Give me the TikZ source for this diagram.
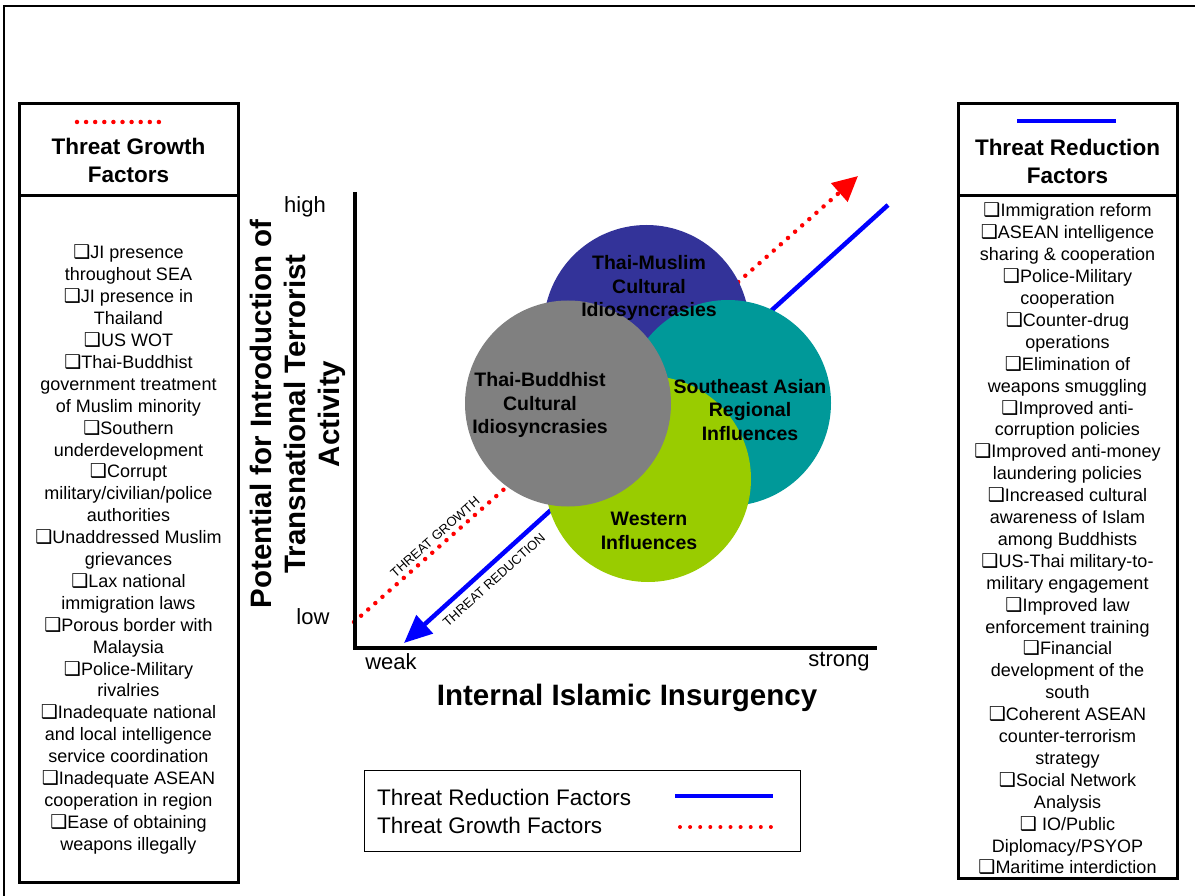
\documentclass[tikz,border=0pt]{standalone}
\usepackage{fontspec}
\setmainfont{Liberation Sans}
\newfontfamily\dejavu{DejaVu Sans}
\usetikzlibrary{arrows.meta}
\definecolor{tmblue}{HTML}{333399}
\definecolor{tbgray}{HTML}{808080}
\definecolor{seateal}{HTML}{009999}
\definecolor{wgreen}{HTML}{99CC00}
\newcommand{\chk}{{\dejavu\fontsize{19}{19}\selectfont ❑}}
\tikzset{
  bodytxt/.style={align=center, font=\fontsize{18}{21.9}\selectfont, inner sep=0pt},
  hdrtxt/.style={align=center, font=\bfseries\fontsize{22.5}{28}\selectfont, inner sep=0pt},
  circtxt/.style={align=center, font=\bfseries\fontsize{19.5}{23.5}\selectfont, inner sep=0pt},
  axtxt/.style={font=\fontsize{22}{26}\selectfont, inner sep=0pt},
  titletxt/.style={align=center, font=\bfseries\fontsize{29.5}{34}\selectfont, inner sep=0pt},
  legtxt/.style={anchor=west, font=\fontsize{22.5}{28}\selectfont, inner sep=0pt},
  arrowtxt/.style={font=\fontsize{13}{13}\selectfont, inner sep=0pt},
  panel/.style={draw=black, line width=3pt, fill=white},
  shadowbox/.style={fill=black!45},
  bubble/.style={circle, minimum size=206pt, inner sep=0pt},
  reddots/.style={red, line width=4.5pt, line cap=round},
  bluestroke/.style={blue, line width=4.5pt},
}
\begin{document}
\begin{tikzpicture}[x=1pt,y=-1pt]
\useasboundingbox (0,0) rectangle (1195,896);
\fill[white] (0,0) rectangle (1195,896);
% outer frame
\draw[line width=2pt] (4,896) -- (4,6) -- (1195,6);

% left panel
\fill[shadowbox] (21,106) rectangle (240,884);
\draw[panel] (19,104) rectangle (238,196);
\draw[panel] (19,196) rectangle (238,882);
\draw[reddots, dash pattern=on 0pt off 9.1pt] (77,122) -- (168,122);
\node[hdrtxt] (lh) at (128.5,160) {Threat Growth\\Factors};
\node[bodytxt] (lb) at (128.5,549.5) {\chk JI presence\\throughout SEA\\\chk JI presence in\\Thailand\\\chk US WOT\\\chk Thai-Buddhist\\government treatment\\of Muslim minority\\\chk Southern\\underdevelopment\\\chk Corrupt\\military/civilian/police\\authorities\\\chk Unaddressed Muslim\\grievances\\\chk Lax national\\immigration laws\\\chk Porous border with\\Malaysia\\\chk Police-Military\\rivalries\\\chk Inadequate national\\and local intelligence\\service coordination\\\chk Inadequate ASEAN\\cooperation in region\\\chk Ease of obtaining\\weapons illegally};

% right panel
\fill[shadowbox] (960,106) rectangle (1179,880);
\draw[panel] (958,104) rectangle (1177,196);
\draw[panel] (958,196) rectangle (1177,878);
\draw[bluestroke, line width=4pt] (1017,121) -- (1116,121);
\node[hdrtxt] (rh) at (1067.5,161.5) {Threat Reduction\\Factors};
\node[bodytxt] (rb) at (1067.5,539) {\chk Immigration reform\\\chk ASEAN intelligence\\sharing \& cooperation\\\chk Police-Military\\cooperation\\\chk Counter-drug\\operations\\\chk Elimination of\\weapons smuggling\\\chk Improved anti-\\corruption policies\\\chk Improved anti-money\\laundering policies\\\chk Increased cultural\\awareness of Islam\\among Buddhists\\\chk US-Thai military-to-\\military engagement\\\chk Improved law\\enforcement training\\\chk Financial\\development of the\\south\\\chk Coherent ASEAN\\counter-terrorism\\strategy\\\chk Social Network\\Analysis\\\chk\ IO/Public\\Diplomacy/PSYOP\\\chk Maritime interdiction};

% trend lines (behind circles)
\coordinate (rg0) at (354,622);
\coordinate (rg1) at (858,176);
\draw[reddots, dash pattern=on 0pt off 9.5pt, -{Triangle[length=25pt,width=24pt]}] (rg0) -- (rg1);
\coordinate (bl0) at (888,205);
\coordinate (bl1) at (404,643);
\draw[bluestroke, -{Triangle[length=28pt,width=24pt]}] (bl0) -- (bl1);

% circles
\node[bubble, fill=tmblue] (cm) at (646.5,328) {};
\node[bubble, fill=seateal] (cs) at (728,403) {};
\node[bubble, fill=wgreen] (cw) at (648,479) {};
\node[bubble, fill=tbgray] (cg) at (568,403.5) {};
\node[circtxt] (tm) at (649,288) {Thai-Muslim\\Cultural\\Idiosyncrasies};
\node[circtxt] (tb) at (540,405) {Thai-Buddhist\\Cultural\\Idiosyncrasies};
\node[circtxt] (se) at (750,410) {Southeast Asian\\Regional\\Influences};
\node[circtxt] (we) at (649,531) {Western\\Influences};

% line labels
\node[arrowtxt, rotate=41.5] (tg) at (435,537) {THREAT GROWTH};
\node[arrowtxt, rotate=42] (tr) at (494,580) {THREAT REDUCTION};

% axes
\draw[line width=4pt] (355,192) -- (355,648) -- (877,648);
\node[axtxt] (high) at (305,207) {high};
\node[axtxt] (low) at (313,617) {low};
\node[axtxt] (weak) at (391,662) {weak};
\node[axtxt] (strong) at (839,662) {strong};
\node[titletxt] (xt) at (627,698) {Internal Islamic Insurgency};
\node[titletxt, rotate=90] (yt) at (298,414) {Potential for Introduction of\\Transnational Terrorist\\Activity};

% legend
\draw[line width=1pt, fill=white] (364,770) rectangle (800,851);
\node[legtxt] (lr) at (377,797) {Threat Reduction Factors};
\node[legtxt] (lgr) at (377,825) {Threat Growth Factors};
\draw[bluestroke, line width=4pt] (675,796) -- (773,796);
\draw[reddots, line width=4pt, dash pattern=on 0pt off 10.1pt] (680,827) -- (771,827);
\end{tikzpicture}
\end{document}
